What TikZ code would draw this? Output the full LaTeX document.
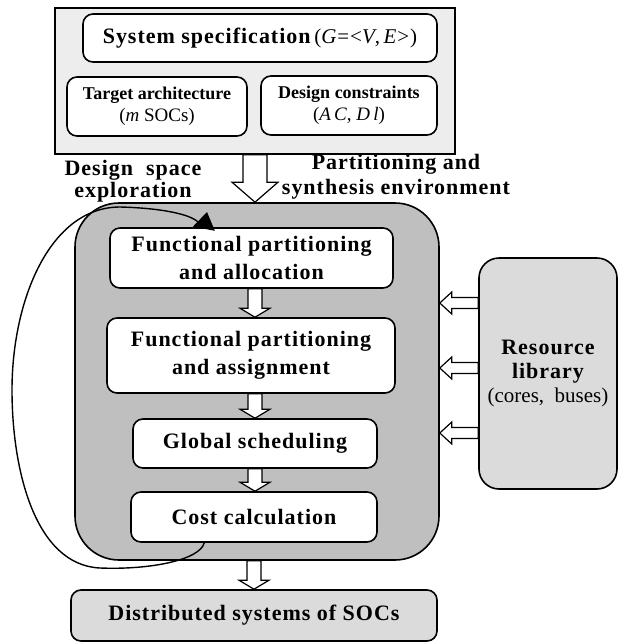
\documentclass[tikz,border=0pt]{standalone}
\usepackage{fontspec}
\setmainfont{Liberation Serif}
\newfontfamily\spacedbf[LetterSpace=4.5]{Liberation Serif}
\usetikzlibrary{calc,arrows.meta}

\newcommand{\bigbf}{\spacedbf\bfseries\fontsize{11}{14}\selectfont}
\newcommand{\resbf}{\spacedbf\bfseries\fontsize{11}{12}\selectfont}
\newcommand{\smallbf}{\bfseries\fontsize{9}{11}\selectfont}
% hollow block arrow: from, to, half shaft, half head, head length
\newcommand{\blockarrow}[5]{%
  \coordinate (ba-base) at ($(#2)!#5!(#1)$);
  \draw[hollow] ($(#1)!#3!90:(#2)$) -- ($(ba-base)!#3!90:(#2)$) -- ($(ba-base)!#4!90:(#2)$)
    -- (#2) -- ($(ba-base)!#4!-90:(#2)$) -- ($(ba-base)!#3!-90:(#2)$) -- ($(#1)!#3!-90:(#2)$) -- cycle;}

\begin{document}
\begin{tikzpicture}[x=0.5pt,y=-0.5pt,line width=0.8pt,
    box/.style={draw, rounded corners=5pt, fill=white, align=center, inner sep=0pt},
    hollow/.style={draw, fill=white, line width=0.6pt, line join=miter}]
  \useasboundingbox (0,0) rectangle (618,644);
  % input side
  \node[draw, fill=black!7, minimum width=200pt, minimum height=73pt] (spec) at (255,81) {};
  \node[box, minimum width=177pt, minimum height=24pt, font=\bigbf] (sys) at (260,38)
    {System specification\,{\mdseries\fontsize{10.5}{12}\selectfont(\textit{G}=<\textit{V},\,\textit{E}>)}};
  \node[box, minimum width=90pt, minimum height=29.5pt, font=\smallbf] (arch) at (157,106.5)
    {Target architecture\\{\mdseries\fontsize{9.5}{11}\selectfont(\textit{m} SOCs)}};
  \node[box, minimum width=88pt, minimum height=29.5pt, font=\smallbf] (cons) at (349,105.5)
    {Design constraints\\{\mdseries\fontsize{9.5}{11}\selectfont(\textit{A\,C}, \textit{D\,l})}};
  \node[font=\spacedbf\bfseries\fontsize{11}{11}\selectfont, align=center] (dse) at (133,181)
    {Design\ \ space\\exploration};
  \node[font=\spacedbf\bfseries\fontsize{11}{12.5}\selectfont, align=center] (pse) at (396,177)
    {Partitioning and\\synthesis environment};

  % environment
  \node[draw, fill=black!25, rounded corners=22pt, minimum width=182pt, minimum height=178.5pt] (env) at (257,381.5) {};
  \node[box, minimum width=141.5pt, minimum height=30pt, font=\bigbf] (fpa) at (251.5,258)
    {Functional partitioning\\and allocation};
  \node[box, minimum width=144pt, minimum height=37.5pt, font=\bigbf] (fpas) at (251,355.5)
    {Functional partitioning\\and assignment};
  \node[box, minimum width=122pt, minimum height=24.5pt, font=\bigbf] (gs) at (255,443.5) {Global scheduling};
  \node[box, minimum width=123pt, minimum height=25pt, font=\bigbf] (cc) at (254,517) {Cost calculation};

  % library and output
  \node[draw, fill=black!14, rounded corners=10pt, minimum width=69pt, minimum height=115.5pt,
    align=center, font=\resbf] (res) at (548,373.5)
    {Resource\\library\\{\mdseries\normalfont\fontsize{10.5}{12}\selectfont(cores,\ \ buses)}};
  \node[draw, fill=black!14, rounded corners=5pt, minimum width=183pt, minimum height=25.5pt, font=\bigbf] (dist) at (254,615.5)
    {Distributed systems of SOCs};

  % flow arrows
  \blockarrow{spec.south}{spec.south |- env.north}{6pt}{11.5pt}{10pt}
  \blockarrow{fpa.south -| gs.north}{fpas.north -| gs.north}{3.5pt}{7.5pt}{4.5pt}
  \blockarrow{fpas.south -| gs.north}{gs.north}{3.5pt}{7.5pt}{4.5pt}
  \blockarrow{gs.south}{gs.south |- cc.north}{3.5pt}{7.5pt}{4.5pt}
  \blockarrow{env.south -| cc.south}{dist.north -| cc.south}{3.5pt}{7.5pt}{4.5pt}

  \coordinate (in1) at ([yshift=35.25pt]res.west);
  \coordinate (in2) at ([yshift=2.75pt]res.west);
  \coordinate (in3) at ([yshift=-29.75pt]res.west);
  \foreach \i in {1,2,3}{
    \blockarrow{in\i}{in\i -| env.east}{2.75pt}{5.5pt}{6pt}
  }

  % feedback loop
  \coordinate (fb) at (207,212);
  \draw[line width=0.7pt, -{Triangle[length=8.5pt,width=11pt]}] ([xshift=37pt]cc.south west)
    .. controls (200,560) and (150,570) .. (100,568)
    .. controls (35,565) and (12,470) .. (12,390)
    .. controls (12,300) and (50,207) .. (120,207)
    .. controls (160,208) and (190,214) .. (198,222)
    .. controls (204,228) .. (fb);
\end{tikzpicture}
\end{document}
